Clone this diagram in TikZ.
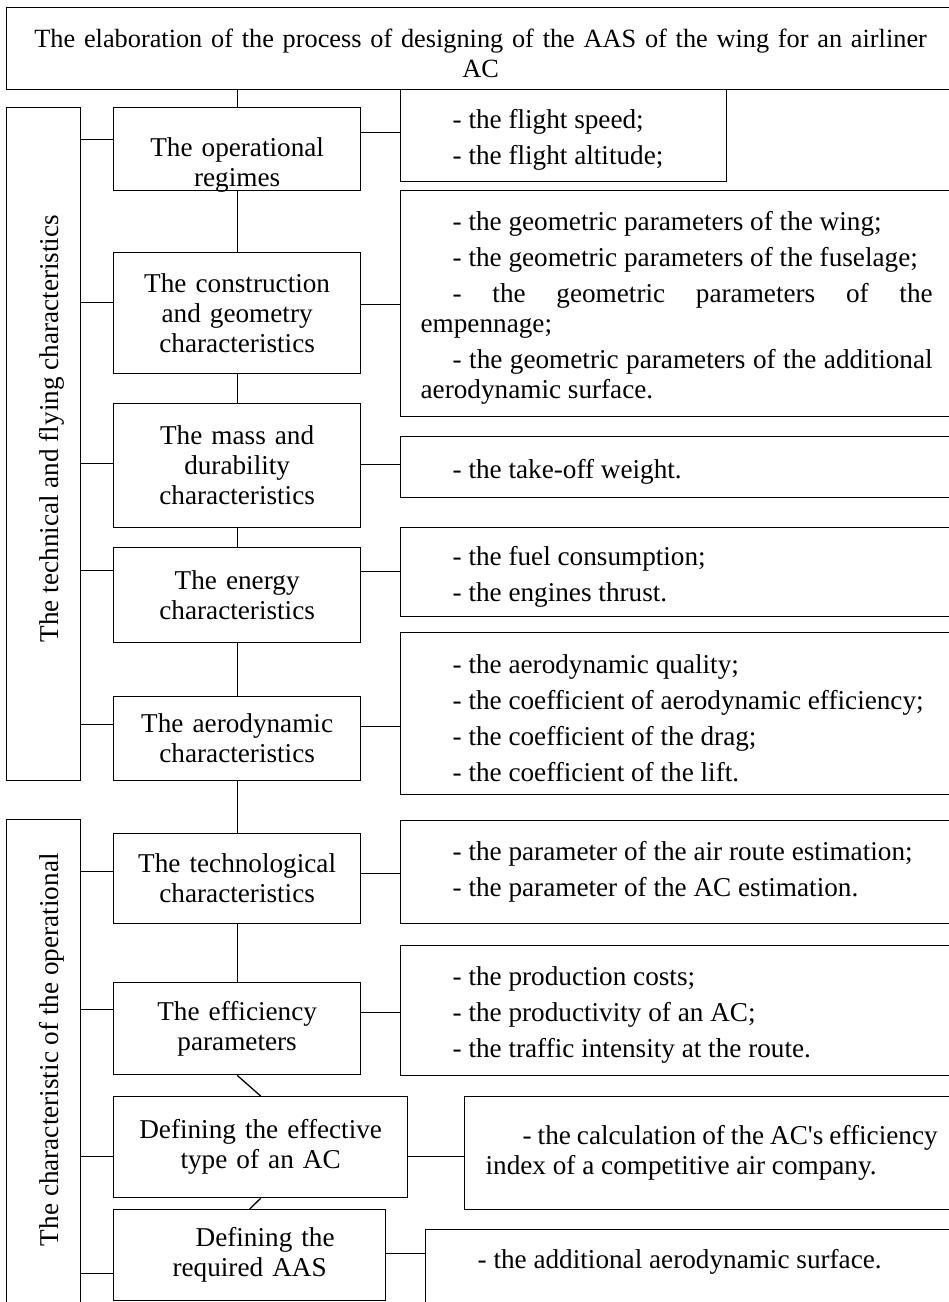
\documentclass[tikz,border=0pt]{standalone}
\usepackage{fontspec}
\setmainfont[Ligatures={TeX,CommonOff}]{Liberation Serif}
\newcommand{\ind}[1][32pt]{\hspace*{#1}}

\begin{document}
\begin{tikzpicture}[x=1pt,y=-1pt,line width=1.3pt,font=\fontsize{27.2}{30}\selectfont]
    \tikzset{blk/.style={draw, anchor=north west, inner xsep=5pt, inner ysep=0pt, align=center, text width=237pt, minimum width=247pt},
             lst/.style={draw, anchor=north west, inner xsep=20pt, inner ysep=0pt, align=justify, text width=512pt,
                         execute at begin node={\setlength\parindent{0pt}\setlength\parskip{6pt}\hyphenpenalty=10000}},
             lowtxt/.style={text height=28pt},
             side/.style={draw, anchor=north west, minimum width=74pt, inner sep=0pt}}
    \useasboundingbox (0,0) rectangle (949,1302);
    \clip (0,0) rectangle (949,1302);
    % title
    \node[blk, lowtxt, text width=928pt, minimum width=948pt, minimum height=82pt, inner xsep=10pt,
          font=\fontsize{26.3}{30}\selectfont] (title) at (6,7)
        {The elaboration of the process of designing of the AAS of the wing for an airliner\\AC};
    % side frames
    \node[side, minimum height=673pt] (tfr) at (6,107) {};
    \node[side, minimum height=520pt] (ofr) at (6,819) {};
    \node[rotate=90] (tlab) at ([xshift=8pt,yshift=15.5pt]tfr.center) {The technical and flying characteristics};
    \node[rotate=90] (olab) at ([xshift=8pt,yshift=30pt]ofr.center) {The characteristic of the operational};
    % middle column
    \node[blk, text depth=5pt, minimum height=83pt] (oper) at (113,107) {The operational\\regimes};
    \node[blk, minimum height=121pt] (constr) at (113,252) {The construction\\and geometry\\characteristics};
    \node[blk, minimum height=124pt] (mass) at (113,403) {The mass and\\durability\\characteristics};
    \node[blk, minimum height=95pt] (energy) at (113,547) {The energy\\characteristics};
    \node[blk, minimum height=84pt] (aero) at (113,696) {The aerodynamic\\characteristics};
    \node[blk, minimum height=90pt] (tech) at (113,833) {The technological\\characteristics};
    \node[blk, minimum height=92pt] (eff) at (113,982) {The efficiency\\parameters};
    \node[blk, text width=284pt, minimum width=294pt, minimum height=101pt] (effective) at (113,1096) {Defining the effective\\type of an AC};
    \node[blk, text width=262pt, minimum width=272pt, minimum height=91pt] (aas) at (113,1209) {\ind[31pt]Defining the\\required AAS};
    % right column
    \node[lst, lowtxt, text width=286pt, minimum height=92pt] (flight) at (400,89)
        {\ind - the flight speed;\par\ind - the flight altitude;};
    \node[lst, lowtxt, minimum height=226pt] (geo) at (400,190)
        {\ind - the geometric parameters of the wing;\par
         \ind - the geometric parameters of the fuselage;\par
         \ind - the geometric parameters of the\linebreak empennage;\par
         \ind - the geometric parameters of the additional\linebreak aerodynamic surface.};
    \node[lst, lowtxt, minimum height=61pt] (takeoff) at (400,436) {\ind - the take-off weight.};
    \node[lst, lowtxt, minimum height=89pt] (fuel) at (400,527)
        {\ind - the fuel consumption;\par\ind - the engines thrust.};
    \node[lst, lowtxt, minimum height=162pt] (aerolist) at (400,632)
        {\ind - the aerodynamic quality;\par
         \ind - the coefficient of aerodynamic efficiency;\par
         \ind - the coefficient of the drag;\par
         \ind - the coefficient of the lift.};
    \node[lst, minimum height=103pt] (techlist) at (400,820)
        {\ind - the parameter of the air route estimation;\par\ind - the parameter of the AC estimation.};
    \node[lst, lowtxt, minimum height=130pt] (efflist) at (400,945)
        {\ind - the production costs;\par\ind - the productivity of an AC;\par\ind - the traffic intensity at the route.};
    \node[lst, text width=452pt, inner xsep=21pt, minimum height=113pt] (calc) at (464,1096)
        {\ind[31pt] - the calculation of the AC\textquotesingle s efficiency\linebreak index of a competitive air company.};
    \node[lst, text height=28pt, text depth=40pt, minimum height=90pt] (aaslist) at (425,1229)
        {\ind - the additional aerodynamic surface.};
    % links
    \draw (oper.north) -- (oper.north |- title.south);
    \foreach \u/\v in {oper/constr, constr/mass, mass/energy, energy/aero, aero/tech, tech/eff}
        \draw (\u) -- (\v);
    \draw (eff.south) -- (effective.north);
    \draw (effective.south) -- (aas.north);
    \foreach \b/\f/\r/\dl/\dr in {oper/tfr/flight/9.5/16.5, constr/tfr/geo/10.5/8.5, mass/tfr/takeoff/2/1,
                                  energy/tfr/fuel/24.5/23.5, aero/tfr/aerolist/14/12, tech/ofr/techlist/7/5,
                                  eff/ofr/efflist/19/16, effective/ofr/calc/-9.5/-9.5, aas/ofr/aaslist/-18.5/1.5}
    {
        \path ([yshift=\dl pt]\b.west) coordinate (bl) ([yshift=\dr pt]\b.east) coordinate (br);
        \draw (bl) -- (bl -| \f.east);
        \draw (br) -- (br -| \r.west);
    }
\end{tikzpicture}
\end{document}
